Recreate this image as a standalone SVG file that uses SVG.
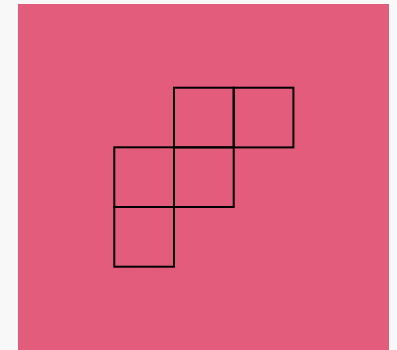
<svg xmlns="http://www.w3.org/2000/svg" width="397" height="350" viewBox="0 0 397 350">
<style>.sq{fill:none;stroke:#000;stroke-width:2}</style>
<rect x="0" y="0" width="397" height="350" fill="#f8f8f8"/>
<rect x="18" y="4" width="371" height="346" fill="#e35c7b"/>
<g id="squares">
<rect id="s1" class="sq" x="174" y="87.7" width="59.7" height="59.7"/>
<rect id="s2" class="sq" x="233.7" y="87.7" width="59.7" height="59.7"/>
<rect id="s3" class="sq" x="114.3" y="147.3" width="59.7" height="59.7"/>
<rect id="s4" class="sq" x="174" y="147.3" width="59.7" height="59.7"/>
<rect id="s5" class="sq" x="114.3" y="207" width="59.7" height="59.7"/>
</g>
</svg>
